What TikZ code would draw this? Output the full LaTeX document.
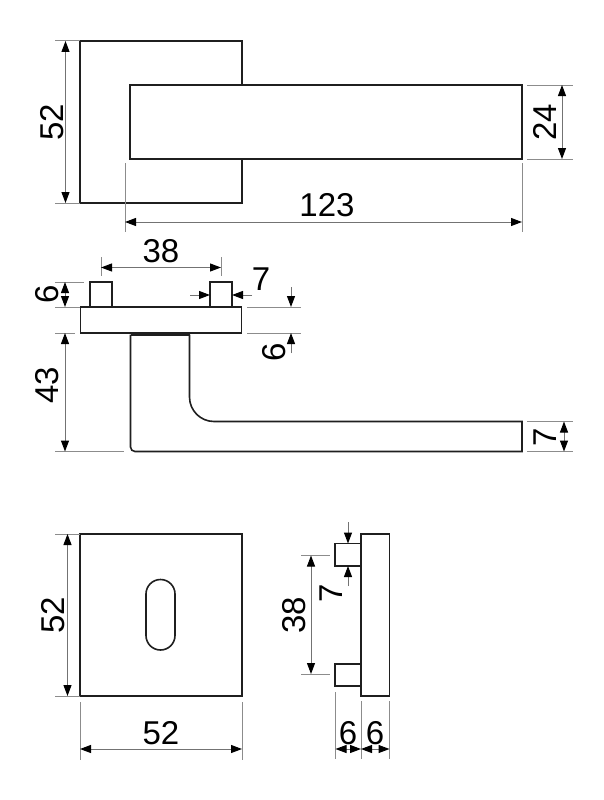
\documentclass[tikz,border=0pt]{standalone}
\usepackage{fontspec}
\setmainfont{Liberation Sans}
\usetikzlibrary{arrows.meta}
\tikzset{
  part/.style={draw=black!88,line width=1.6pt,line join=miter},
  thickpart/.style={draw=black!88,line width=2.1pt},
  ext/.style={draw=black!45,line width=1pt},
  dim/.style={draw=black!55,line width=1pt},
  both/.style={dim,{Triangle[length=11pt,width=8pt,color=black]}-{Triangle[length=11pt,width=8pt,color=black]}},
  single/.style={dim,-{Triangle[length=11pt,width=8pt,color=black]}},
  lab/.style={inner sep=0pt,font=\fontsize{33}{33}\selectfont,text=black},
  vlab/.style={lab,rotate=90}
}
\begin{document}
\begin{tikzpicture}[x=1pt,y=-1pt]
\useasboundingbox[fill=white] (0,0) rectangle (604,800);
% --- top view
\draw[part] (242,85) -- (242,41) -- (80,41) -- (80,203) -- (242,203) -- (242,159);
\draw[thickpart] (130,85) rectangle (522,159);
\draw[ext] (55,41) -- (80,41) (55,203) -- (80,203);
\draw[both] (65.5,41) -- (65.5,203);
\node[vlab] (a52) at (52,122) {52};
\draw[ext] (125,163) -- (125,232) (522,163) -- (522,232);
\draw[both] (125,222) -- (522,222);
\node[lab] (a123) at (327,205) {123};
\draw[ext] (527,85) -- (573,85) (527,159) -- (573,159);
\draw[both] (562,85) -- (562,159);
\node[vlab] (a24) at (545,122) {24};
% --- side view
\draw[part] (80.5,307) rectangle (241.5,333);
\draw[part] (90,307) -- (90,282) -- (112,282) -- (112,307);
\draw[part] (210,307) -- (210,282) -- (232,282) -- (232,307);
\draw[thickpart] (130.5,334.5) -- (189.5,334.5);
\draw[part] (189.5,334.5) -- (189.5,397) arc[start angle=180,end angle=90,radius=24.5] -- (522,421.5) -- (522,451.5) -- (135,451.5) arc[start angle=90,end angle=180,radius=4.5] -- (130.5,334.5);
\draw[ext] (101,257) -- (101,276) (221,257) -- (221,276);
\draw[both] (101,267.5) -- (221,267.5);
\node[lab] (b38) at (161,251) {38};
\draw[single] (190,295) -- (210,295);
\draw[single] (252,295) -- (232,295);
\node[lab] (b7) at (261,279) {7};
\draw[ext] (247,307) -- (301,307) (247,333) -- (301,333);
\draw[single] (291,287) -- (291,307);
\draw[single] (291,353) -- (291,333);
\node[vlab] (b6r) at (274,352) {6};
\draw[ext] (55,282) -- (84,282) (55,307) -- (80,307);
\draw[both] (65,282) -- (65,307);
\node[vlab] (b6l) at (47,294) {6};
\draw[ext] (55,333) -- (75,333) (55,451.5) -- (124,451.5);
\draw[both] (65,333) -- (65,451.5);
\node[vlab] (b43) at (47,385) {43};
\draw[ext] (527,421.5) -- (573,421.5) (527,451.5) -- (573,451.5);
\draw[both] (564,421.5) -- (564,451.5);
\node[vlab] (b7r) at (545,437) {7};
% --- rose view
\draw[part] (80,534) rectangle (242,696);
\draw[part] (146,594) arc[start angle=180,end angle=360,radius=14.5] -- (175,635.5) arc[start angle=0,end angle=180,radius=14.5] -- cycle;
\draw[ext] (55,534) -- (80,534) (55,696) -- (80,696);
\draw[both] (67.5,534) -- (67.5,696);
\node[vlab] (c52) at (53,615) {52};
\draw[ext] (80,702) -- (80,760) (242,702) -- (242,760);
\draw[both] (80,749) -- (242,749);
\node[lab] (c52b) at (161,733) {52};
% --- rose side view
\draw[part] (361,534) rectangle (389.5,696);
\draw[part] (361,543.5) -- (335,543.5) -- (335,566) -- (361,566);
\draw[part] (361,664) -- (335,664) -- (335,686) -- (361,686);
\draw[ext] (301,555.5) -- (330,555.5) (301,674) -- (330,674);
\draw[both] (311,555.5) -- (311,674);
\node[vlab] (d38) at (294,615) {38};
\draw[single] (348,522) -- (348,543.5);
\draw[single] (348,586) -- (348,566);
\node[vlab] (d7) at (331,593) {7};
\draw[ext] (335.5,692) -- (335.5,759) (361,701) -- (361,759) (389.5,701) -- (389.5,759);
\draw[both] (335.5,749) -- (361,749);
\draw[both] (361,749) -- (389.5,749);
\node[lab] (d6a) at (348,733) {6};
\node[lab] (d6b) at (375,733) {6};
\end{tikzpicture}
\end{document}
